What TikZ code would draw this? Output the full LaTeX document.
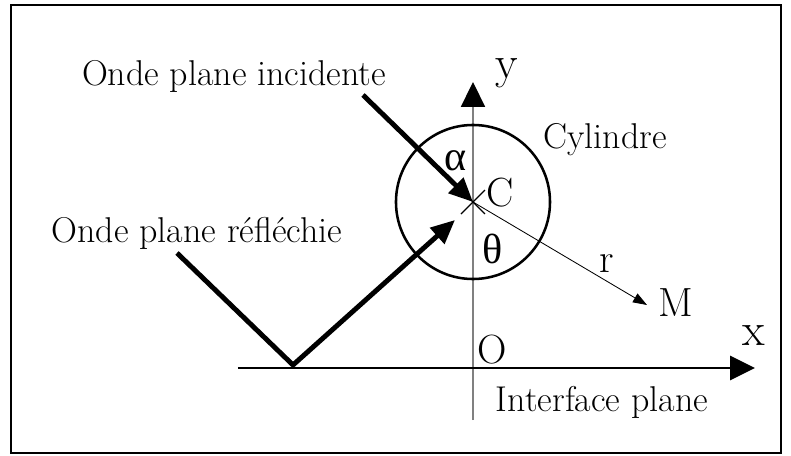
\documentclass[tikz,border=0pt]{standalone}
\usepackage{fontspec}
\usepackage{xcolor}
\usetikzlibrary{arrows.meta}
\newfontfamily\grkfont{Liberation Serif}

\begin{document}
\begin{tikzpicture}[x=0.025cm,y=0.025cm,
    txt/.style={inner sep=0pt,font=\fontsize{25.5}{30}\selectfont},
    sym/.style={inner sep=0pt,font=\fontsize{29}{34}\selectfont},
    grk/.style={inner sep=0pt,font=\fontsize{30}{34}\selectfont\grkfont},
    axlbl/.style={inner sep=0pt,font=\fontsize{33}{38}\selectfont},
    wave/.style={line width=3.5pt,line join=miter,-{Triangle[length=0.6cm,width=0.52cm]}},
    axtip/.style={-{Triangle[length=0.62cm,width=0.6cm,color=black]}}]
    \useasboundingbox (-473,-87) rectangle (318,368);
    \draw[line width=2.1pt] (-462,-85) rectangle (308,363);
    % axes and cylinder
    \coordinate (O) at (0,0);
    \coordinate (C) at (0,166);
    \coordinate (xs) at (-235,0);
    \coordinate (xe) at (282,0);
    \coordinate (ys) at (0,-52);
    \coordinate (ye) at (0,286);
    \draw[line width=1pt,gray,axtip] (ys) -- (ye);
    \draw[line width=1.8pt,axtip] (xs) -- (xe);
    \draw[line width=1.8pt] (C) circle (1.925cm);
    % incident and reflected waves
    \coordinate (inc) at (-110,273);
    \coordinate (ref) at (-296,115);
    \coordinate (P) at (-180,3);
    \coordinate (R) at (-18,148);
    \draw[wave] (inc) -- (C);
    \draw[wave] (ref) -- (P) -- (R);
    % cross at C and radius r
    \coordinate (c1) at (-12,154);
    \coordinate (c2) at (12,178);
    \coordinate (c3) at (-12,178);
    \coordinate (c4) at (12,154);
    \draw[line width=0.8pt] (c1) -- (c2);
    \draw[line width=0.8pt] (c3) -- (c4);
    \coordinate (M) at (174,63);
    \draw[line width=0.6pt,-{Triangle[length=0.35cm,width=0.25cm]}] (C) -- (M);
    % labels
    \node[txt] (tinc) at (-239,292) {Onde plane incidente};
    \node[txt] (tref) at (-276,135) {Onde plane réfléchie};
    \node[txt] (tcyl) at (132,228) {Cylindre};
    \node[txt] (tint) at (129,-34) {Interface plane};
    \node[axlbl] (lx) at (281,32) {x};
    \node[axlbl] (ly) at (34,295) {y};
    \node[sym] (lO) at (19,18) {O};
    \node[sym] (lC) at (27,175) {C};
    \node[sym] (lM) at (203,65) {M};
    \node[sym] (lr) at (134,104) {r};
    \node[grk] (la) at (-17,207) {α};
    \node[grk] (lt) at (20,119) {θ};
\end{tikzpicture}
\end{document}
